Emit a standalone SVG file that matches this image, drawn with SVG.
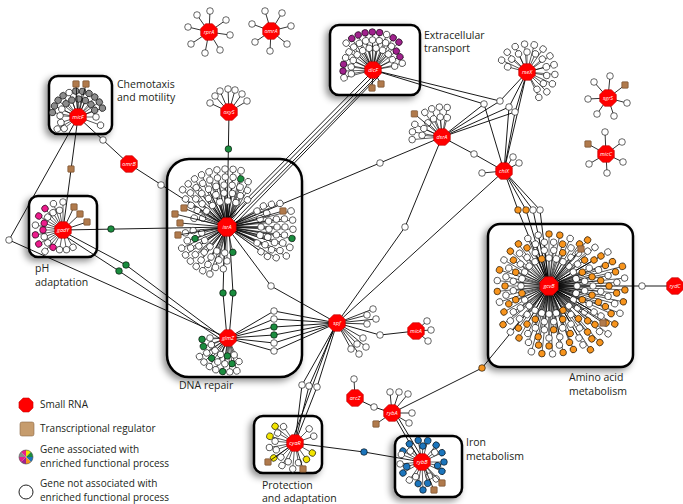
<svg xmlns="http://www.w3.org/2000/svg" width="683" height="504" viewBox="0 0 683 504">
<style>
.f{font-family:"Open Sans","Liberation Sans",sans-serif;fill:#231f20}
.lb{font-size:10.5px}
.lg{font-size:10px}
.h{font-family:"Open Sans","Liberation Sans",sans-serif;font-size:5.5px;font-style:italic;fill:#fff;text-anchor:middle}
.bx{fill:#fff;stroke:#000;stroke-width:2.5;filter:url(#sh)}
.c{fill:none;stroke:#000;stroke-width:.9}
.s{fill:none;stroke:#000;stroke-width:.8}
.o{fill:#f7941d}.g{fill:#1a8c3e}.p{fill:#a0228d}.m{fill:#ec1c8c}.k{fill:#8c8c8c}.y{fill:#f2e400}.b{fill:#1c75bc}
</style>
<defs>
<filter id="sh" x="-20%" y="-20%" width="140%" height="140%"><feDropShadow dx="-3" dy="3" stdDeviation="3.5" flood-color="#000" flood-opacity=".45"/></filter>
<circle id="G" r="3.3" stroke="#000" stroke-width=".6"/>
<rect id="B" x="-3.2" y="-3.2" width="6.4" height="6.4" rx=".8" fill="#b07a4c" stroke="#6a4425" stroke-width=".6"/>
<polygon id="O" points="8.3,3.4 3.4,8.3 -3.4,8.3 -8.3,3.4 -8.3,-3.4 -3.4,-8.3 3.4,-8.3 8.3,-3.4" fill="#f00" stroke="#b00" stroke-width=".6"/>
<g id="r16"><path d="M0 0H16" stroke="#000" stroke-width=".6"/><use href="#G" x="16"/></g>
<g id="r18"><path d="M0 0H18" stroke="#000" stroke-width=".6"/><use href="#G" x="18"/></g>
<g id="r20"><path d="M0 0H20" stroke="#000" stroke-width=".6"/><use href="#G" x="20"/></g>
<g id="r22"><path d="M0 0H22" stroke="#000" stroke-width=".6"/><use href="#G" x="22"/></g>
<g id="r24"><path d="M0 0H24" stroke="#000" stroke-width=".6"/><use href="#G" x="24"/></g>
<g id="r26"><path d="M0 0H26" stroke="#000" stroke-width=".6"/><use href="#G" x="26"/></g>
<g id="r28"><path d="M0 0H28" stroke="#000" stroke-width=".6"/><use href="#G" x="28"/></g>
<g id="r30"><path d="M0 0H30" stroke="#000" stroke-width=".6"/><use href="#G" x="30"/></g>
<g id="r34"><path d="M0 0H34" stroke="#000" stroke-width=".6"/><use href="#G" x="34"/></g>
<g id="r36"><path d="M0 0H36" stroke="#000" stroke-width=".6"/><use href="#G" x="36"/></g>
<g id="r38"><path d="M0 0H38" stroke="#000" stroke-width=".6"/><use href="#G" x="38"/></g>
<g id="r42"><path d="M0 0H42" stroke="#000" stroke-width=".6"/><use href="#G" x="42"/></g>
<g id="r44"><path d="M0 0H44" stroke="#000" stroke-width=".6"/><use href="#G" x="44"/></g>
<g id="r50"><path d="M0 0H50" stroke="#000" stroke-width=".6"/><use href="#G" x="50"/></g>
<g id="r52"><path d="M0 0H52" stroke="#000" stroke-width=".6"/><use href="#G" x="52"/></g>
<g id="r58"><path d="M0 0H58" stroke="#000" stroke-width=".6"/><use href="#G" x="58"/></g>
<g id="r60"><path d="M0 0H60" stroke="#000" stroke-width=".6"/><use href="#G" x="60"/></g>
<g id="r66"><path d="M0 0H66" stroke="#000" stroke-width=".6"/><use href="#G" x="66"/></g>
<g id="r68"><path d="M0 0H68" stroke="#000" stroke-width=".6"/><use href="#G" x="68"/></g>
<g id="r76"><path d="M0 0H76" stroke="#000" stroke-width=".6"/><use href="#G" x="76"/></g>
</defs>
<rect width="683" height="504" fill="#fff"/>

<g id="boxes">
<rect class="bx" x="330" y="25" width="90" height="70" rx="9"/>
<rect class="bx" x="49" y="76" width="63" height="58" rx="9"/>
<rect class="bx" x="29" y="196" width="68" height="61" rx="9"/>
<rect class="bx" x="167" y="159" width="135" height="218" rx="22"/>
<rect class="bx" x="488" y="224" width="145" height="143" rx="12"/>
<rect class="bx" x="254" y="416" width="68" height="57" rx="9"/>
<rect class="bx" x="395" y="436" width="67" height="61" rx="9"/>
</g>

<g id="labels" class="f lb">
<text x="424" y="39">Extracellular</text><text x="424" y="52">transport</text>
<text x="117" y="88">Chemotaxis</text><text x="117" y="101">and motility</text>
<text x="35" y="272">pH</text><text x="35" y="286">adaptation</text>
<text x="179" y="389">DNA repair</text>
<text x="569" y="381">Amino acid</text><text x="569" y="395">metabolism</text>
<text x="262" y="489">Protection</text><text x="262" y="502">and adaptation</text>
<text x="466" y="446">Iron</text><text x="466" y="460">metabolism</text>
</g>

<g id="connectors" class="c">
<path d="M229 112L227 227M78 117L129 164L227 227M78 117L63 230M78 117L9 240L228 338M63 230L227 227M66 233L126 265L226 340M62 234L119 271L225 342"/>
<path d="M368 76L222 224M371 78L225 225M375 78L230 225M379 76L233 226M227 227L442 137M227 227L271 286L337 323M225 227L223 293L227 338M229 227L233 293L229 338"/>
<path d="M228 338L274 311L337 323M228 338L274 319L337 323M228 338L274 327L337 323M228 338L274 335L337 323M228 338L274 343L337 323M228 338L274 351L337 323"/>
<path d="M337 323L405 227L442 137M337 323L504 171M337 323L380 335L416 331M337 323L302 385L295 443M337 323L309 386L295 443M337 323L317 387L295 443M335 325L292 441M295 443L364 452L422 462M355 398L374 407L392 413M393 414L420 461M396 414L424 461M392 413L482 368L549 286"/>
<path d="M504 171L518 210L549 286M504 171L526 210L549 286M504 171L533 210L549 286M504 171L540 210L549 286M549 286L675 286M442 137L474 154L504 171M373 70L484 104L442 137M484 104L504 171M373 70L500 101L527 72M500 101L442 137M442 137L509 107L527 72M509 107L504 171M442 137L515 112L527 72M515 112L504 171M527 72L504 171"/>
</g>

<g id="bridges" fill="#fff">
<use href="#G" x="103" y="140"/><use href="#G" x="161" y="185"/><use href="#G" x="9" y="240"/><use href="#G" x="380" y="163"/><use href="#G" x="271" y="286"/>
<use href="#G" x="274" y="311"/><use href="#G" x="274" y="319"/><use href="#G" x="274" y="327" class="g"/><use href="#G" x="274" y="335" class="g"/><use href="#G" x="274" y="343"/><use href="#G" x="274" y="351"/>
<use href="#G" x="405" y="227"/><use href="#G" x="380" y="335"/><use href="#G" x="302" y="385"/><use href="#G" x="309" y="386"/><use href="#G" x="317" y="387"/><use href="#G" x="374" y="407"/>
<use href="#G" x="518" y="210" class="o"/><use href="#G" x="526" y="210" class="o"/><use href="#G" x="533" y="210"/><use href="#G" x="540" y="210"/><use href="#G" x="642" y="286"/>
<use href="#G" x="474" y="154"/><use href="#G" x="484" y="104"/><use href="#G" x="500" y="101"/><use href="#G" x="509" y="107"/><use href="#G" x="515" y="112"/>
<use href="#G" x="228.4" y="149" class="g"/><use href="#G" x="111" y="229" class="g"/><use href="#G" x="126" y="265" class="g"/><use href="#G" x="119" y="271" class="g"/><use href="#G" x="223" y="293" class="g"/><use href="#G" x="233" y="293" class="g"/>
<use href="#G" x="364" y="452" class="b"/><use href="#G" x="482" y="368" class="o"/>
<use href="#B" x="71" y="169"/>
</g>

<g id="gcvB" transform="translate(549,286)" fill="#fff">
<use href="#r76" transform="rotate(-15)" class="o"/><use href="#r76" transform="rotate(-6)"/><use href="#r76" transform="rotate(3)" class="o"/><use href="#r76" transform="rotate(12)" class="o"/><use href="#r76" transform="rotate(21)"/><use href="#r76" transform="rotate(30)" class="o"/><use href="#r76" transform="rotate(39)"/><use href="#r76" transform="rotate(48)" class="o"/><use href="#r76" transform="rotate(57)" class="o"/>
<use href="#r68" transform="rotate(-30)"/><use href="#r68" transform="rotate(-21)" class="o"/><use href="#r68" transform="rotate(-12)" class="o"/><use href="#r68" transform="rotate(-3)"/><use href="#r68" transform="rotate(6)" class="o"/><use href="#r68" transform="rotate(15)"/><use href="#r68" transform="rotate(24)" class="o"/><use href="#r68" transform="rotate(33)" class="o"/><use href="#r68" transform="rotate(42)"/><use href="#r68" transform="rotate(51)" class="o"/><use href="#r68" transform="rotate(60)"/><use href="#r68" transform="rotate(69)" class="o"/><use href="#r68" transform="rotate(78)" class="o"/><use href="#r68" transform="rotate(87)"/><use href="#r68" transform="rotate(96)" class="o"/><use href="#r68" transform="rotate(105)"/>
<use href="#r60" transform="rotate(-50)" class="o"/><use href="#r60" transform="rotate(-40)"/><use href="#r60" transform="rotate(-30)" class="o"/><use href="#r60" transform="rotate(-20)" class="o"/><use href="#r60" transform="rotate(-10)"/><use href="#r60" transform="rotate(0)" class="o"/><use href="#r60" transform="rotate(10)"/><use href="#r60" transform="rotate(20)" class="o"/><use href="#r60" transform="rotate(30)"/><use href="#r60" transform="rotate(40)" class="o"/><use href="#r60" transform="rotate(50)" class="o"/><use href="#r60" transform="rotate(60)"/><use href="#r60" transform="rotate(70)" class="o"/><use href="#r60" transform="rotate(80)"/><use href="#r60" transform="rotate(90)" class="o"/><use href="#r60" transform="rotate(100)" class="o"/><use href="#r60" transform="rotate(110)"/><use href="#r60" transform="rotate(120)" class="o"/><use href="#r60" transform="rotate(130)"/><use href="#r60" transform="rotate(140)" class="o"/>
<use href="#r52" transform="rotate(6)"/><use href="#r52" transform="rotate(18)" class="o"/><use href="#r52" transform="rotate(30)"/><use href="#r52" transform="rotate(42)" class="o"/><use href="#r52" transform="rotate(54)"/><use href="#r52" transform="rotate(66)" class="o"/><use href="#r52" transform="rotate(78)"/><use href="#r52" transform="rotate(90)"/><use href="#r52" transform="rotate(102)" class="o"/><use href="#r52" transform="rotate(114)"/><use href="#r52" transform="rotate(126)" class="o"/><use href="#r52" transform="rotate(138)"/><use href="#r52" transform="rotate(150)" class="o"/><use href="#r52" transform="rotate(162)"/><use href="#r52" transform="rotate(174)" class="o"/><use href="#r52" transform="rotate(186)"/><use href="#r52" transform="rotate(198)" class="o"/><use href="#r52" transform="rotate(210)"/><use href="#r52" transform="rotate(222)" class="o"/><use href="#r52" transform="rotate(234)" class="o"/><use href="#r52" transform="rotate(246)"/><use href="#r52" transform="rotate(258)"/><use href="#r52" transform="rotate(270)" class="o"/><use href="#r52" transform="rotate(282)" class="o"/><use href="#r52" transform="rotate(294)"/><use href="#r52" transform="rotate(306)" class="o"/><use href="#r52" transform="rotate(318)"/><use href="#r52" transform="rotate(330)" class="o"/><use href="#r52" transform="rotate(342)"/><use href="#r52" transform="rotate(354)" class="o"/>
<use href="#r44" transform="rotate(0)"/><use href="#r44" transform="rotate(12)" class="o"/><use href="#r44" transform="rotate(24)"/><use href="#r44" transform="rotate(36)"/><use href="#r44" transform="rotate(48)" class="o"/><use href="#r44" transform="rotate(60)"/><use href="#r44" transform="rotate(72)"/><use href="#r44" transform="rotate(84)" class="o"/><use href="#r44" transform="rotate(96)"/><use href="#r44" transform="rotate(108)"/><use href="#r44" transform="rotate(120)" class="o"/><use href="#r44" transform="rotate(132)"/><use href="#r44" transform="rotate(144)"/><use href="#r44" transform="rotate(156)" class="o"/><use href="#r44" transform="rotate(168)"/><use href="#r44" transform="rotate(180)" class="o"/><use href="#r44" transform="rotate(192)"/><use href="#r44" transform="rotate(204)"/><use href="#r44" transform="rotate(216)" class="o"/><use href="#r44" transform="rotate(228)"/><use href="#r44" transform="rotate(240)" class="o"/><use href="#r44" transform="rotate(252)"/><use href="#r44" transform="rotate(264)"/><use href="#r44" transform="rotate(276)"/><use href="#r44" transform="rotate(288)" class="o"/><use href="#r44" transform="rotate(300)"/><use href="#r44" transform="rotate(312)"/><use href="#r44" transform="rotate(324)" class="o"/><use href="#r44" transform="rotate(336)"/><use href="#r44" transform="rotate(348)" class="o"/>
<use href="#r36" transform="rotate(7.5)"/><use href="#r36" transform="rotate(22.5)" class="o"/><use href="#r36" transform="rotate(37.5)"/><use href="#r36" transform="rotate(52.5)"/><use href="#r36" transform="rotate(67.5)" class="o"/><use href="#r36" transform="rotate(82.5)"/><use href="#r36" transform="rotate(97.5)"/><use href="#r36" transform="rotate(112.5)" class="o"/><use href="#r36" transform="rotate(127.5)"/><use href="#r36" transform="rotate(142.5)"/><use href="#r36" transform="rotate(157.5)" class="o"/><use href="#r36" transform="rotate(172.5)"/><use href="#r36" transform="rotate(187.5)"/><use href="#r36" transform="rotate(202.5)" class="o"/><use href="#r36" transform="rotate(217.5)"/><use href="#r36" transform="rotate(232.5)"/><use href="#r36" transform="rotate(247.5)"/><use href="#r36" transform="rotate(262.5)"/><use href="#r36" transform="rotate(277.5)"/><use href="#r36" transform="rotate(292.5)" class="o"/><use href="#r36" transform="rotate(307.5)"/><use href="#r36" transform="rotate(322.5)"/><use href="#r36" transform="rotate(337.5)" class="o"/><use href="#r36" transform="rotate(352.5)"/>
<use href="#r28" transform="rotate(0)"/><use href="#r28" transform="rotate(15)"/><use href="#r28" transform="rotate(30)"/><use href="#r28" transform="rotate(45)"/><use href="#r28" transform="rotate(60)" class="o"/><use href="#r28" transform="rotate(75)"/><use href="#r28" transform="rotate(90)"/><use href="#r28" transform="rotate(105)"/><use href="#r28" transform="rotate(120)"/><use href="#r28" transform="rotate(135)"/><use href="#r28" transform="rotate(150)"/><use href="#r28" transform="rotate(165)" class="o"/><use href="#r28" transform="rotate(180)"/><use href="#r28" transform="rotate(195)"/><use href="#r28" transform="rotate(210)"/><use href="#r28" transform="rotate(225)"/><use href="#r28" transform="rotate(240)"/><use href="#r28" transform="rotate(255)" class="o"/><use href="#r28" transform="rotate(270)"/><use href="#r28" transform="rotate(285)"/><use href="#r28" transform="rotate(300)"/><use href="#r28" transform="rotate(315)"/><use href="#r28" transform="rotate(330)"/><use href="#r28" transform="rotate(345)"/>
<path class="s" d="M0 0L32 -37M0 0L54 37"/><use href="#B" x="32" y="-37"/><use href="#B" x="54" y="37"/>
<use href="#O" transform="scale(1.1)"/><text class="h" y="2">gcvB</text>
</g>

<g id="isrA" transform="translate(227,227)" fill="#fff">
<use href="#r66" transform="rotate(-14)"/><use href="#r66" transform="rotate(-6)"/><use href="#r66" transform="rotate(2)"/><use href="#r66" transform="rotate(10)" class="g"/><use href="#r66" transform="rotate(18)"/><use href="#r66" transform="rotate(26)"/>
<use href="#r58" transform="rotate(-140)"/><use href="#r58" transform="rotate(-132)"/><use href="#r58" transform="rotate(-124)"/><use href="#r58" transform="rotate(-116)"/><use href="#r58" transform="rotate(-108)"/><use href="#r58" transform="rotate(-100)"/><use href="#r58" transform="rotate(-92)"/><use href="#r58" transform="rotate(-84)"/><use href="#r58" transform="rotate(-76)"/>
<use href="#r58" transform="rotate(-24)"/><use href="#r58" transform="rotate(-8)"/><use href="#r58" transform="rotate(0)"/><use href="#r58" transform="rotate(8)"/><use href="#r58" transform="rotate(16)"/><use href="#r58" transform="rotate(24)"/><use href="#r58" transform="rotate(32)"/>
<use href="#r50" transform="rotate(-146)"/><use href="#r50" transform="rotate(-137)"/><use href="#r50" transform="rotate(-128)"/><use href="#r50" transform="rotate(-119)"/><use href="#r50" transform="rotate(-110)"/><use href="#r50" transform="rotate(-101)"/><use href="#r50" transform="rotate(-92)"/><use href="#r50" transform="rotate(-83)"/><use href="#r50" transform="rotate(-74)" class="g"/><use href="#r50" transform="rotate(-65)"/>
<use href="#r50" transform="rotate(-27)"/><use href="#r50" transform="rotate(-9)"/><use href="#r50" transform="rotate(0)"/><use href="#r50" transform="rotate(9)"/><use href="#r50" transform="rotate(18)"/><use href="#r50" transform="rotate(27)"/><use href="#r50" transform="rotate(36)"/>
<use href="#r50" transform="rotate(110)"/><use href="#r50" transform="rotate(119)"/><use href="#r50" transform="rotate(128)"/><use href="#r50" transform="rotate(137)"/><use href="#r50" transform="rotate(146)"/><use href="#r50" transform="rotate(155)"/>
<use href="#r42" transform="rotate(-149)"/><use href="#r42" transform="rotate(-138)"/><use href="#r42" transform="rotate(-127)"/><use href="#r42" transform="rotate(-116)"/><use href="#r42" transform="rotate(-105)"/><use href="#r42" transform="rotate(-94)"/><use href="#r42" transform="rotate(-83)"/><use href="#r42" transform="rotate(-72)"/><use href="#r42" transform="rotate(-61)"/>
<use href="#r42" transform="rotate(-30)"/><use href="#r42" transform="rotate(-19)"/><use href="#r42" transform="rotate(-8)"/><use href="#r42" transform="rotate(3)"/><use href="#r42" transform="rotate(14)"/><use href="#r42" transform="rotate(25)"/><use href="#r42" transform="rotate(36)"/>
<use href="#r42" transform="rotate(95)"/><use href="#r42" transform="rotate(106)"/><use href="#r42" transform="rotate(117)"/><use href="#r42" transform="rotate(128)"/><use href="#r42" transform="rotate(139)"/><use href="#r42" transform="rotate(150)"/><use href="#r42" transform="rotate(161)"/><use href="#r42" transform="rotate(172)"/>
<use href="#r34" transform="rotate(-165)"/><use href="#r34" transform="rotate(-151)"/><use href="#r34" transform="rotate(-137)"/><use href="#r34" transform="rotate(-123)"/><use href="#r34" transform="rotate(-109)"/><use href="#r34" transform="rotate(-95)"/><use href="#r34" transform="rotate(-81)"/><use href="#r34" transform="rotate(-67)"/><use href="#r34" transform="rotate(-53)"/>
<use href="#r34" transform="rotate(-28)"/><use href="#r34" transform="rotate(-14)"/><use href="#r34" transform="rotate(0)"/><use href="#r34" transform="rotate(14)"/><use href="#r34" transform="rotate(28)"/>
<use href="#r34" transform="rotate(90)"/><use href="#r34" transform="rotate(104)"/><use href="#r34" transform="rotate(118)"/><use href="#r34" transform="rotate(132)"/><use href="#r34" transform="rotate(146)"/><use href="#r34" transform="rotate(160)" class="g"/><use href="#r34" transform="rotate(174)"/>
<use href="#r26" transform="rotate(-160)"/><use href="#r26" transform="rotate(-142)"/><use href="#r26" transform="rotate(-124)"/><use href="#r26" transform="rotate(-106)"/><use href="#r26" transform="rotate(-88)"/><use href="#r26" transform="rotate(-70)"/>
<use href="#r26" transform="rotate(77)" class="g"/><use href="#r26" transform="rotate(95)"/><use href="#r26" transform="rotate(113)"/><use href="#r26" transform="rotate(131)"/><use href="#r26" transform="rotate(149)"/><use href="#r26" transform="rotate(167)"/>
<path class="s" d="M0 0L-43 -19M0 0L-52 -13M0 0L-47 -4M0 0L-49 8M0 0L56 -16"/>
<use href="#B" x="-43" y="-19"/><use href="#B" x="-52" y="-13"/><use href="#B" x="-47" y="-4"/><use href="#B" x="-49" y="8"/><use href="#B" x="56" y="-16"/>
<use href="#O" transform="scale(1.1)"/><text class="h" y="2">isrA</text>
</g>

<g id="glmZ" transform="translate(228,338)" fill="#fff">
<use href="#r34" transform="rotate(75)"/><use href="#r34" transform="rotate(87)"/><use href="#r34" transform="rotate(99)" class="g"/><use href="#r34" transform="rotate(111)"/><use href="#r34" transform="rotate(123)"/><use href="#r34" transform="rotate(135)"/><use href="#r34" transform="rotate(147)"/>
<use href="#r26" transform="rotate(65)"/><use href="#r26" transform="rotate(81)" class="g"/><use href="#r26" transform="rotate(97)"/><use href="#r26" transform="rotate(113)"/><use href="#r26" transform="rotate(129)" class="g"/><use href="#r26" transform="rotate(145)"/><use href="#r26" transform="rotate(161)" class="g"/><use href="#r26" transform="rotate(177)" class="g"/>
<use href="#r18" transform="rotate(70)"/><use href="#r18" transform="rotate(92)" class="g"/><use href="#r18" transform="rotate(114)"/><use href="#r18" transform="rotate(136)"/><use href="#r18" transform="rotate(158)"/><use href="#r18" transform="rotate(180)"/>
<use href="#O"/><text class="h" y="2">glmZ</text>
</g>

<g id="micF" transform="translate(78,117)" fill="#fff">
<use href="#r26" transform="rotate(190)" class="k"/><use href="#r26" transform="rotate(205)" class="k"/><use href="#r26" transform="rotate(220)" class="k"/><use href="#r26" transform="rotate(235)" class="k"/><use href="#r26" transform="rotate(250)"/><use href="#r26" transform="rotate(265)" class="k"/><use href="#r26" transform="rotate(280)" class="k"/><use href="#r26" transform="rotate(295)" class="k"/><use href="#r26" transform="rotate(310)" class="k"/><use href="#r26" transform="rotate(325)" class="k"/><use href="#r26" transform="rotate(340)" class="k"/>
<use href="#r24" transform="rotate(150)"/><use href="#r24" transform="rotate(20)"/>
<use href="#r18" transform="rotate(140)"/><use href="#r18" transform="rotate(162)"/><use href="#r18" transform="rotate(184)"/><use href="#r18" transform="rotate(206)"/><use href="#r18" transform="rotate(228)" class="k"/><use href="#r18" transform="rotate(250)" class="k"/><use href="#r18" transform="rotate(272)" class="k"/><use href="#r18" transform="rotate(294)" class="k"/><use href="#r18" transform="rotate(316)" class="k"/><use href="#r18" transform="rotate(338)" class="k"/><use href="#r18" transform="rotate(360)"/>
<path class="s" d="M0 0L-2 -33M0 0L8 -33"/><use href="#B" x="-2" y="-33"/><use href="#B" x="8" y="-33"/>
<use href="#O"/><text class="h" y="2">micF</text>
</g>

<g id="gadY" transform="translate(63,230)" fill="#fff">
<use href="#r28" transform="rotate(130)"/><use href="#r28" transform="rotate(150)" class="m"/><use href="#r28" transform="rotate(170)" class="m"/><use href="#r28" transform="rotate(190)"/><use href="#r28" transform="rotate(210)" class="m"/><use href="#r28" transform="rotate(230)" class="m"/><use href="#r28" transform="rotate(250)"/><use href="#r28" transform="rotate(270)"/>
<use href="#r20" transform="rotate(60)"/><use href="#r20" transform="rotate(80)"/><use href="#r20" transform="rotate(100)"/><use href="#r20" transform="rotate(120)" class="m"/><use href="#r20" transform="rotate(140)"/><use href="#r20" transform="rotate(160)"/><use href="#r20" transform="rotate(180)" class="m"/><use href="#r20" transform="rotate(200)" class="m"/><use href="#r20" transform="rotate(220)"/><use href="#r20" transform="rotate(240)"/><use href="#r20" transform="rotate(260)"/>
<path class="s" d="M0 0L11 -23M0 0L17 -16M0 0L24 -8"/><use href="#B" x="11" y="-23"/><use href="#B" x="17" y="-16"/><use href="#B" x="24" y="-8"/>
<use href="#O"/><text class="h" y="2">gadY</text>
</g>

<g id="dicF" transform="translate(373,70)" fill="#fff">
<use href="#r38" transform="rotate(225)"/><use href="#r38" transform="rotate(236)" class="p"/><use href="#r38" transform="rotate(247)" class="p"/><use href="#r38" transform="rotate(258)" class="p"/><use href="#r38" transform="rotate(269)" class="p"/><use href="#r38" transform="rotate(280)" class="p"/><use href="#r38" transform="rotate(291)"/><use href="#r38" transform="rotate(302)" class="p"/><use href="#r38" transform="rotate(313)" class="p"/>
<use href="#r30" transform="rotate(165)"/><use href="#r30" transform="rotate(178)" class="p"/><use href="#r30" transform="rotate(191)" class="p"/><use href="#r30" transform="rotate(204)"/><use href="#r30" transform="rotate(217)"/><use href="#r30" transform="rotate(230)"/><use href="#r30" transform="rotate(243)"/><use href="#r30" transform="rotate(256)"/><use href="#r30" transform="rotate(269)"/><use href="#r30" transform="rotate(282)"/><use href="#r30" transform="rotate(295)"/><use href="#r30" transform="rotate(308)"/><use href="#r30" transform="rotate(321)" class="p"/><use href="#r30" transform="rotate(334)" class="p"/><use href="#r30" transform="rotate(347)"/>
<use href="#r22" transform="rotate(170)"/><use href="#r22" transform="rotate(188)"/><use href="#r22" transform="rotate(206)"/><use href="#r22" transform="rotate(224)"/><use href="#r22" transform="rotate(242)"/><use href="#r22" transform="rotate(260)"/><use href="#r22" transform="rotate(278)"/><use href="#r22" transform="rotate(296)"/><use href="#r22" transform="rotate(314)"/><use href="#r22" transform="rotate(332)"/><use href="#r22" transform="rotate(350)"/>
<path class="s" d="M0 0L-1 18M0 0L8 14"/><use href="#B" x="-1" y="18"/><use href="#B" x="8" y="14"/>
<use href="#O"/><text class="h" y="2">dicF</text>
</g>

<g id="rseX" transform="translate(527,72)" fill="#fff">
<use href="#r28" transform="rotate(-155)"/><use href="#r28" transform="rotate(-135)"/><use href="#r28" transform="rotate(-115)"/><use href="#r28" transform="rotate(-95)"/><use href="#r28" transform="rotate(-75)"/><use href="#r28" transform="rotate(-55)"/><use href="#r28" transform="rotate(-35)"/><use href="#r28" transform="rotate(-15)"/><use href="#r28" transform="rotate(5)"/><use href="#r28" transform="rotate(25)"/><use href="#r28" transform="rotate(45)"/><use href="#r28" transform="rotate(65)"/>
<use href="#r20" transform="rotate(-165)"/><use href="#r20" transform="rotate(-140)"/><use href="#r20" transform="rotate(-115)"/><use href="#r20" transform="rotate(-90)"/><use href="#r20" transform="rotate(-65)"/><use href="#r20" transform="rotate(-40)"/><use href="#r20" transform="rotate(-15)"/><use href="#r20" transform="rotate(10)"/><use href="#r20" transform="rotate(35)"/><use href="#r20" transform="rotate(60)"/>
<use href="#O"/><text class="h" y="2">rseX</text>
</g>

<g id="dsrA" transform="translate(442,137)" fill="#fff">
<use href="#r30" transform="rotate(-185)"/><use href="#r30" transform="rotate(-170)"/><use href="#r30" transform="rotate(-155)"/><use href="#r30" transform="rotate(-125)"/><use href="#r30" transform="rotate(-110)"/><use href="#r30" transform="rotate(-95)"/><use href="#r30" transform="rotate(-80)"/>
<use href="#r20" transform="rotate(-175)"/><use href="#r20" transform="rotate(-155)"/><use href="#r20" transform="rotate(-135)"/><use href="#r20" transform="rotate(-115)"/><use href="#r20" transform="rotate(-95)"/><use href="#r20" transform="rotate(-75)"/>
<path class="s" d="M0 0L-27.6 -23.1"/><use href="#B" x="-27.6" y="-23.1"/>
<use href="#O"/><text class="h" y="2">dsrA</text>
</g>

<g id="chiX" fill="#fff">
<path class="s" d="M504 171L513 157M504 171L519 163M504 171L482 173"/>
<use href="#G" x="513" y="157"/><use href="#G" x="519" y="163"/><use href="#G" x="482" y="173"/>
<use href="#O" x="504" y="171"/><text class="h" x="504" y="173">chiX</text>
</g>

<g id="cyaR" transform="translate(295,443)" fill="#fff">
<use href="#r26" transform="rotate(95)"/><use href="#r26" transform="rotate(120)"/><use href="#r26" transform="rotate(145)" class="y"/><use href="#r26" transform="rotate(170)"/><use href="#r26" transform="rotate(195)" class="y"/><use href="#r26" transform="rotate(220)" class="y"/>
<use href="#r20" transform="rotate(-45)"/><use href="#r20" transform="rotate(-20)"/><use href="#r20" transform="rotate(30)" class="y"/><use href="#r20" transform="rotate(55)" class="y"/><use href="#r20" transform="rotate(80)"/><use href="#r20" transform="rotate(110)"/><use href="#r20" transform="rotate(135)"/><use href="#r20" transform="rotate(160)"/><use href="#r20" transform="rotate(185)"/><use href="#r20" transform="rotate(210)"/><use href="#r20" transform="rotate(235)"/>
<path class="s" d="M0 0L-27 19M0 0L8 26"/><use href="#B" x="-27" y="19"/><use href="#B" x="8" y="26"/>
<use href="#O"/><text class="h" y="2">cyaR</text>
</g>

<g id="rybB" transform="translate(422,462)" fill="#fff">
<use href="#r28" transform="rotate(88)" class="b"/>
<use href="#r22" transform="rotate(-150)" class="b"/><use href="#r22" transform="rotate(-125)" class="b"/><use href="#r22" transform="rotate(-100)" class="b"/><use href="#r22" transform="rotate(-75)" class="b"/><use href="#r22" transform="rotate(-50)" class="b"/><use href="#r22" transform="rotate(-25)" class="b"/><use href="#r22" transform="rotate(0)" class="b"/><use href="#r22" transform="rotate(25)" class="b"/><use href="#r22" transform="rotate(50)"/><use href="#r22" transform="rotate(75)" class="b"/><use href="#r22" transform="rotate(100)" class="b"/><use href="#r22" transform="rotate(125)"/><use href="#r22" transform="rotate(150)" class="b"/><use href="#r22" transform="rotate(175)"/><use href="#r22" transform="rotate(200)"/>
<use href="#r16" transform="rotate(-137)"/><use href="#r16" transform="rotate(-87)" class="b"/><use href="#r16" transform="rotate(-37)"/><use href="#r16" transform="rotate(13)" class="b"/><use href="#r16" transform="rotate(63)"/><use href="#r16" transform="rotate(113)"/><use href="#r16" transform="rotate(163)" class="b"/>
<path class="s" d="M0 0L12 28M0 0L20 21"/><use href="#B" x="12" y="28"/><use href="#B" x="20" y="21"/>
<use href="#O"/><text class="h" y="2">rybB</text>
</g>

<g id="rprA" fill="#fff">
<path class="s" d="M209 32L197 15M209 32L210 11M209 32L226 20M209 32L230 35M209 32L220 50M209 32L205 53M209 32L191 44M209 32L188 27"/>
<use href="#G" x="197" y="15"/><use href="#G" x="210" y="11"/><use href="#G" x="226" y="20"/><use href="#G" x="230" y="35"/><use href="#G" x="220" y="50"/><use href="#G" x="205" y="53"/><use href="#G" x="191" y="44"/><use href="#G" x="188" y="27"/>
<use href="#O" x="209" y="32"/><text class="h" x="209" y="34">rprA</text>
</g>

<g id="omrA" fill="#fff">
<path class="s" d="M271 31L265 11M271 31L282 13M271 31L291 26M271 31L287 44M271 31L270 51M271 31L255 42M271 31L252 24"/>
<use href="#G" x="265" y="11"/><use href="#G" x="282" y="13"/><use href="#G" x="291" y="26"/><use href="#G" x="287" y="44"/><use href="#G" x="270" y="51"/><use href="#G" x="255" y="42"/><use href="#G" x="252" y="24"/>
<use href="#O" x="271" y="31"/><text class="h" x="271" y="33">omrA</text>
</g>

<g id="sgrS" fill="#fff">
<path class="s" d="M608 98L610 76M608 98L625 85M608 98L627 103M608 98L614 116M608 98L597 114M608 98L588 99M608 98L594 82"/>
<use href="#G" x="610" y="76"/><use href="#G" x="627" y="103"/><use href="#G" x="614" y="116"/><use href="#G" x="597" y="114"/><use href="#G" x="588" y="99"/><use href="#G" x="594" y="82"/><use href="#B" x="625" y="85"/>
<use href="#O" x="608" y="98"/><text class="h" x="608" y="100">sgrS</text>
</g>

<g id="micC" fill="#fff">
<path class="s" d="M606 154L605 132M606 154L622 142M606 154L623 162M606 154L607 173M606 154L589 164M606 154L588 144"/>
<use href="#G" x="605" y="132"/><use href="#G" x="622" y="142"/><use href="#G" x="623" y="162"/><use href="#G" x="607" y="173"/><use href="#G" x="589" y="164"/><use href="#B" x="588" y="144"/>
<use href="#O" x="606" y="154"/><text class="h" x="606" y="156">micC</text>
</g>

<g id="oxyS" fill="#fff">
<path class="s" d="M229 112L210 103M229 112L215 96M229 112L220 91M229 112L228 89M229 112L235 90M229 112L242 94M229 112L247 101"/>
<use href="#G" x="210" y="103"/><use href="#G" x="215" y="96"/><use href="#G" x="220" y="91"/><use href="#G" x="228" y="89"/><use href="#G" x="235" y="90"/><use href="#G" x="242" y="94"/><use href="#G" x="247" y="101"/>
<use href="#O" x="229" y="112"/><text class="h" x="229" y="114">oxyS</text>
</g>

<g id="omrB" fill="#fff">
<use href="#O" x="129" y="164"/><text class="h" x="129" y="166">omrB</text>
</g>

<g id="spf" fill="#fff">
<path class="s" d="M337 323L373 309M337 323L367 315M337 323L376 319M337 323L367 324M337 323L363 338M337 323L357 344M337 323L366 347M337 323L351 349M337 323L359 354"/>
<use href="#G" x="373" y="309"/><use href="#G" x="367" y="315"/><use href="#G" x="376" y="319"/><use href="#G" x="367" y="324"/><use href="#G" x="363" y="338"/><use href="#G" x="357" y="344"/><use href="#G" x="366" y="347"/><use href="#G" x="351" y="349"/><use href="#G" x="359" y="354"/>
<use href="#O" x="337" y="323"/><text class="h" x="337" y="325">spf</text>
</g>

<g id="micA" fill="#fff">
<path class="s" d="M416 331L427 321M416 331L431 330M416 331L428 341"/>
<use href="#G" x="427" y="321"/><use href="#G" x="431" y="330"/><use href="#G" x="428" y="341"/>
<use href="#O" x="416" y="331"/><text class="h" x="416" y="333">micA</text>
</g>

<g id="arcZ" fill="#fff">
<path class="s" d="M355 398L354 379"/><use href="#G" x="354" y="379"/>
<use href="#O" x="355" y="398"/><text class="h" x="355" y="400">arcZ</text>
</g>

<g id="rybA" fill="#fff">
<path class="s" d="M392 413L390 392M392 413L399 392M392 413L408 394M392 413L412 413M392 413L409 423M392 413L376 424"/>
<use href="#G" x="390" y="392"/><use href="#G" x="399" y="392"/><use href="#G" x="408" y="394"/><use href="#G" x="412" y="413"/><use href="#G" x="409" y="423"/><use href="#B" x="376" y="424"/>
<use href="#O" x="392" y="413"/><text class="h" x="392" y="415">rybA</text>
</g>

<g id="rydC" fill="#fff">
<use href="#O" x="675" y="286"/><text class="h" x="675" y="288">rydC</text>
</g>

<g id="legend">
<use href="#O" transform="translate(26,405) scale(.85)"/>
<rect x="20" y="422" width="14" height="14" rx="2" fill="#c69c6d" stroke="#8b6a47" stroke-width=".6"/>
<g transform="translate(26,457)" stroke="none">
<path d="M0 0V-7A7 7 0 0 1 4.95-4.95Z" fill="#f2e400"/>
<path d="M0 0L4.95-4.95A7 7 0 0 1 7 0Z" fill="#1a8c3e"/>
<path d="M0 0H7A7 7 0 0 1 4.95 4.95Z" fill="#1c75bc"/>
<path d="M0 0L4.95 4.95A7 7 0 0 1 0 7Z" fill="#f7941d"/>
<path d="M0 0V7A7 7 0 0 1 -4.95 4.95Z" fill="#a0228d"/>
<path d="M0 0L-4.95 4.95A7 7 0 0 1 -7 0Z" fill="#ec1c8c"/>
<path d="M0 0H-7A7 7 0 0 1 -4.95-4.95Z" fill="#8c8c8c"/>
<path d="M0 0L-4.95-4.95A7 7 0 0 1 0-7Z" fill="#ec1c8c"/>
<circle r="7" fill="none" stroke="#444" stroke-width=".6"/>
</g>
<circle cx="26" cy="492" r="7" fill="#fff" stroke="#222" stroke-width="1"/>
<g class="f lg">
<text x="40" y="408">Small RNA</text>
<text x="40" y="432">Transcriptional regulator</text>
<text x="40" y="453">Gene associated with</text>
<text x="40" y="467">enriched functional process</text>
<text x="40" y="487">Gene not associated with</text>
<text x="40" y="501">enriched functional process</text>
</g>
</g>
</svg>
